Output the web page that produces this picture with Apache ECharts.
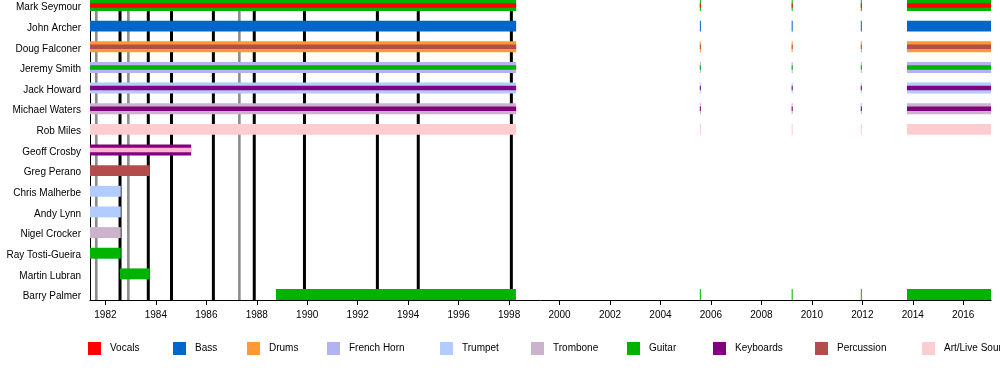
<!DOCTYPE html>
<html>
<head>
<meta charset="utf-8">
<script src="https://cdn.jsdelivr.net/npm/echarts@6/dist/echarts.min.js"></script>
<style>
html,body{margin:0;padding:0;background:#fff;}
#chart{width:1000px;height:380px;}
</style>
</head>
<body>
<div id="chart"></div>
<script>
// ---- data ----
const members = ['Mark Seymour','John Archer','Doug Falconer','Jeremy Smith','Jack Howard','Michael Waters','Rob Miles','Geoff Crosby','Greg Perano','Chris Malherbe','Andy Lynn','Nigel Crocker','Ray Tosti-Gueira','Martin Lubran','Barry Palmer'];
const instruments = ['Vocals','Bass','Drums','French Horn','Trumpet','Trombone','Guitar','Keyboards','Percussion','Art/Live Sound'];
const tickYears = [1982,1984,1986,1988,1990,1992,1994,1996,1998,2000,2002,2004,2006,2008,2010,2012,2014,2016];
// core line-up stints (start, end in decimal years)
const coreStints = [[1981.39,1998.28],[2005.56,2005.60],[2009.20,2009.24],[2011.94,2011.98],[2013.77,2017.10]];
// member: [main instrument (outer bar), secondary instrument (inner stripe)]
const coreRoles = [
  ['Mark Seymour','Guitar','Vocals'],
  ['John Archer','Bass',null],
  ['Doug Falconer','Drums','Percussion'],
  ['Jeremy Smith','French Horn','Guitar'],
  ['Jack Howard','Trumpet','Keyboards'],
  ['Michael Waters','Trombone','Keyboards'],
  ['Rob Miles','Art/Live Sound',null]
];
// other members: [member, outer, inner, start, end]
const otherPeriods = [
  ['Geoff Crosby','Keyboards','Keyboards accent',1981.39,1985.40],
  ['Greg Perano','Percussion',null,1981.39,1983.76],
  ['Chris Malherbe','Trumpet',null,1981.39,1982.61],
  ['Andy Lynn','Trumpet',null,1981.39,1982.61],
  ['Nigel Crocker','Trombone',null,1981.39,1982.61],
  ['Ray Tosti-Gueira','Guitar',null,1981.39,1982.61],
  ['Martin Lubran','Guitar',null,1982.58,1983.76],
  ['Barry Palmer','Guitar',null,1988.76,1998.27],
  ['Barry Palmer','Guitar',null,2005.56,2005.60],
  ['Barry Palmer','Guitar',null,2009.20,2009.24],
  ['Barry Palmer','Guitar',null,2011.94,2011.98],
  ['Barry Palmer','Guitar',null,2013.77,2017.10]
];
const albumLines = [1982.58,1983.70,1984.62,1986.28,1987.90,1989.89,1992.78,1994.40,1998.09];
const otherLines = [1981.64,1982.91,1987.31];

// ---- styles ----
const colors = {
  'Vocals':'#ff0000','Bass':'#0066cc','Drums':'#ff9933','French Horn':'#b3b3f2',
  'Trumpet':'#b3ccff','Trombone':'#ccb3cc','Guitar':'#00b300','Keyboards':'#800080',
  'Percussion':'#b34d4d','Art/Live Sound':'#ffccd2','Keyboards accent':'#ffb3d9'
};
const legendLeft = [88,173,247,327,440,531,627,713,815,922];
const FONT = '"Liberation Sans", Arial, sans-serif';
const yMin = -0.266, yMax = 14.266;

// build bar data per instrument
const barData = {};
Object.keys(colors).forEach(k => barData[k] = []);
coreRoles.forEach(([m, outer, inner]) => {
  const row = members.indexOf(m);
  coreStints.forEach(([s, e]) => {
    barData[outer].push([s, e, row, 0]);
    if (inner) barData[inner].push([s, e, row, 1]);
  });
});
otherPeriods.forEach(([m, outer, inner, s, e]) => {
  const row = members.indexOf(m);
  barData[outer].push([s, e, row, 0]);
  if (inner) barData[inner].push([s, e, row, 1]);
});

function renderBar(params, api) {
  const a = api.coord([api.value(0), api.value(2)]);
  const b = api.coord([api.value(1), api.value(2)]);
  const band = Math.abs(api.size([0, 1])[1]);
  const inner = api.value(3) === 1;
  const h = inner ? band * 0.22 : band * 0.53;
  const w = Math.max(1, b[0] - a[0]);
  return {
    type: 'rect',
    shape: { x: a[0], y: a[1] - h / 2, width: w, height: h },
    style: { fill: api.visual('color') },
    z2: inner ? 20 : 10
  };
}
function renderLine(params, api) {
  const x = api.value(0);
  const p1 = api.coord([x, yMin]);
  const p2 = api.coord([x, yMax]);
  const grey = api.value(1) === 1;
  return {
    type: 'line',
    shape: { x1: p1[0], y1: p1[1], x2: p2[0], y2: p2[1] },
    style: { stroke: grey ? '#8c8c8c' : '#000000', lineWidth: grey ? 2.6 : 3 }
  };
}

const series = [{
  type: 'custom', name: 'events', z: 1, silent: true,
  renderItem: renderLine,
  encode: { x: 0 },
  data: albumLines.map(v => [v, 0]).concat(otherLines.map(v => [v, 1]))
}];
Object.keys(colors).forEach(k => {
  series.push({
    type: 'custom', name: k, z: 2, silent: true,
    itemStyle: { color: colors[k] },
    renderItem: renderBar,
    encode: { x: [0, 1], y: 2 },
    data: barData[k]
  });
});

const legends = instruments.map((name, i) => ({
  data: [name], left: legendLeft[i], top: 342, padding: 0,
  orient: 'horizontal', icon: 'rect', itemWidth: 13, itemHeight: 13,
  selectedMode: false,
  textStyle: { fontSize: 10, color: '#000', fontFamily: FONT, padding: [2, 0, 0, 4] }
}));

const chart = echarts.init(document.getElementById('chart'), null, { renderer: 'canvas' });
chart.setOption({
  animation: false,
  backgroundColor: '#ffffff',
  textStyle: { fontFamily: FONT },
  grid: { left: 90, right: 9, top: 0, height: 300 },
  xAxis: {
    type: 'value', min: 1981.39, max: 2017.10,
    axisLine: { show: true, onZero: false, lineStyle: { color: '#000', width: 1 } },
    axisTick: { show: true, customValues: tickYears, length: 5, lineStyle: { color: '#000' } },
    axisLabel: { customValues: tickYears, formatter: v => String(v), fontSize: 10, color: '#000', margin: 10, fontFamily: FONT },
    splitLine: { show: false }
  },
  yAxis: {
    type: 'value', inverse: true, min: yMin, max: yMax,
    axisLine: { show: true, onZero: false, lineStyle: { color: '#000', width: 1 } },
    axisTick: { show: false },
    axisLabel: {
      customValues: members.map((m, i) => i),
      formatter: v => '{n|' + (members[Math.round(v)] || '') + '}',
      margin: 9,
      rich: { n: { fontSize: 10, color: '#000', fontFamily: FONT, padding: [4, 0, 0, 0] } }
    },
    splitLine: { show: false }
  },
  legend: legends,
  series: series
});
</script>
</body>
</html>
